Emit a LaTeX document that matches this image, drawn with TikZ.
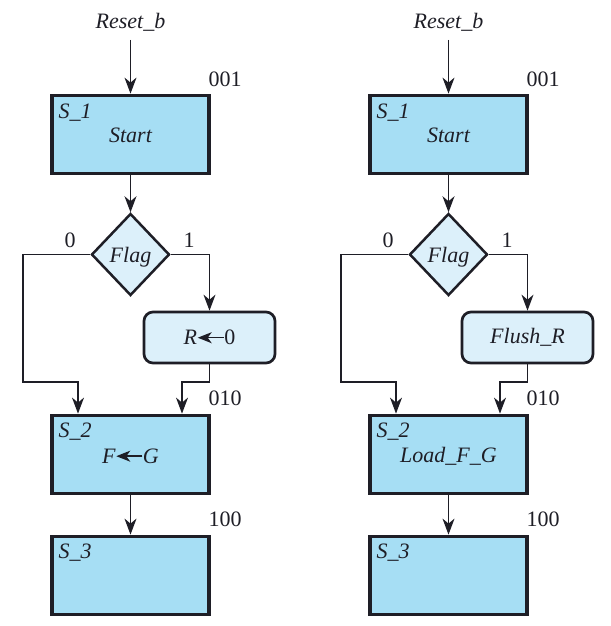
\documentclass[tikz,border=0pt]{standalone}
\usepackage{fontspec}
\setmainfont{Liberation Serif}
\usetikzlibrary{arrows.meta,shapes.geometric}
\definecolor{stfill}{RGB}{166,222,244}
\definecolor{cdfill}{RGB}{220,240,250}
\definecolor{ink}{RGB}{30,30,38}
\newcommand\larr{\tikz[baseline={(0pt,-7pt)}]{\draw[draw=ink,fill=ink,line width=1.4pt,-{Stealth[length=14pt,width=11pt,inset=4pt]}] (26pt,0pt) -- (0pt,0pt);}}
\newcommand\drawchart[4]{%
\begin{scope}[xshift=#2pt]
\node (rst#1) at (130.5,22) {\itshape Reset\_b};
\coordinate (in#1) at (130.5,40);
\node[statebox] (s1#1) at (130.5,134.5) {};
\node (t1#1) at (130.5,135) {\itshape Start};
\node[anchor=west] (l1#1) at (55,113) {\itshape S\_1};
\node (c1#1) at (225,79) {001};
\node[decision] (d#1) at (130.5,254.5) {};
\node (f#1) at (130.5,257) {\itshape Flag};
\node (z#1) at (70,240) {0};
\node (o#1) at (189,240) {1};
\node[condbox] (r#1) at (209.5,337.5) {#3};
\coordinate (ja#1) at (23,382);
\coordinate (jb#1) at (78,382);
\coordinate (jc#1) at (182,382);
\node[statebox] (s2#1) at (130.5,454.5) {};
\node (t2#1) at (130.5,456) {#4};
\node[anchor=west] (l2#1) at (55,432) {\itshape S\_2};
\node (c2#1) at (225,398) {010};
\node[statebox] (s3#1) at (130.5,575.5) {};
\node[anchor=west] (l3#1) at (55,553) {\itshape S\_3};
\node (c3#1) at (225,519) {100};
\end{scope}
\draw[arr] (in#1) -- (s1#1.north);
\draw[arr] (s1#1.south) -- (d#1.north);
\draw[arr] (d#1.west) -| (ja#1) -- (jb#1) -- (s2#1.north -| jb#1);
\draw[arr] (d#1.east) -| (r#1.north);
\draw[arr] (r#1.south) |- (jc#1) -- (s2#1.north -| jc#1);
\draw[arr] (s2#1.south) -- (s3#1.north);
}
\begin{document}
\begin{tikzpicture}[x=1pt,y=-1pt,
  every node/.style={text=ink,font=\fontsize{22}{26}\selectfont},
  statebox/.style={draw=ink,fill=stfill,line width=3.8pt,minimum width=157pt,minimum height=78pt,inner sep=0pt},
  condbox/.style={draw=ink,fill=cdfill,line width=2.7pt,rounded corners=9pt,minimum width=131pt,minimum height=51pt,inner sep=0pt},
  decision/.style={diamond,draw=ink,fill=cdfill,line width=2.5pt,minimum width=78pt,minimum height=82pt,inner sep=0pt},
  conn/.style={draw=ink,line width=1.3pt},
  arr/.style={conn,-{Stealth[length=16pt,width=12pt,inset=5pt]}},
]
\fill[white] (0,0) rectangle (610,626);
\useasboundingbox (0,0) rectangle (610,626);
\drawchart{L}{0}{{\itshape R}\larr 0}{{\itshape F\larr G}}
\drawchart{R}{318}{\itshape Flush\_R}{\itshape Load\_F\_G}
\end{tikzpicture}
\end{document}
